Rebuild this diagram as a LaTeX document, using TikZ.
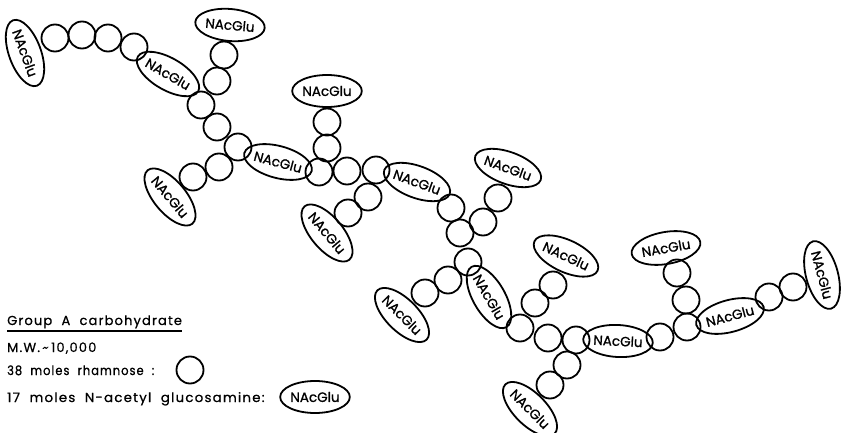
\documentclass[tikz,border=0pt]{standalone}
\usepackage{fontspec}
\setmainfont{Poppins}
\newfontfamily\legendfont[LetterSpace=9,WordSpace=2,FakeBold=0.8]{Poppins}
\newfontfamily\unitfont[FakeBold=1]{Poppins}
\usetikzlibrary{shapes.geometric}

\begin{document}
\begin{tikzpicture}[x=1pt,y=-1pt,
  rham/.style={circle,draw,line width=1.8pt,minimum size=27pt,inner sep=0pt},
  nag/.style={ellipse,draw,line width=1.8pt,minimum width=57pt,minimum height=32pt,
    inner sep=0pt,font=\unitfont\fontsize{13.5}{14}\selectfont},
  legend/.style={anchor=base west,inner sep=0pt,font=\legendfont\fontsize{13}{14}\selectfont},
]
\useasboundingbox (0,0) rectangle (841,433);

% rhamnose units
\foreach \n/\x/\y in {
  1/55/38, 2/82/35, 3/108/38, 4/134/47, 5/201/105, 6/217/81, 7/224/55,
  8/217/127, 9/238/147, 10/219/167, 11/193/177, 12/319/172, 13/327/148,
  14/327/122, 15/347/171, 16/376/170, 17/368/197, 18/348/213, 19/451/208,
  20/460/233, 21/483/222, 22/498/198, 23/468/262, 24/448/280, 25/425/293,
  26/520/328, 27/535/303, 28/553/285, 29/548/338, 30/576/340, 31/567/365,
  32/550/385, 33/660/337, 34/687/327, 35/686/300, 36/677/273, 37/769/297,
  38/793/287}
  \node[rham] (r\n) at (\x,\y) {};

% N-acetyl glucosamine units
\foreach \n/\x/\y/\a in {
  1/25/53/-70, 2/168/74/-30, 3/230/25/-5, 4/170/197/-50, 5/278/162/-15,
  6/327/91/0, 7/327/233/-50, 8/417/182/-20, 9/508/168/-20, 10/402/315/-45,
  11/489/297/-60, 12/566/256/-25, 13/618/341/-3, 14/530/409/-45,
  15/666/248/10, 16/730/316/15, 17/822/275/-75}
  \node[nag,rotate=\a] (g\n) at (\x,\y) {NAcGlu};

% key
\node[legend] (title) at (7,325) {Group A carbohydrate};
\draw[line width=1.2pt] ([yshift=-6pt]title.base west) -- ([yshift=-6pt]title.base east);
\node[legend] (mw) at (7,352) {M.W.\,\textasciitilde\,10,000};
\node[legend] (rh) at (7,375) {\scalebox{0.88}[1]{38 moles rhamnose :}};
\node[legend] (ng) at (7,402) {\scalebox{1.03}[1]{17 moles N-acetyl glucosamine:}};
\node[rham] (krh) at (190,370) {};
\node[nag] (kng) at (315,397) {NAcGlu};
\end{tikzpicture}
\end{document}
